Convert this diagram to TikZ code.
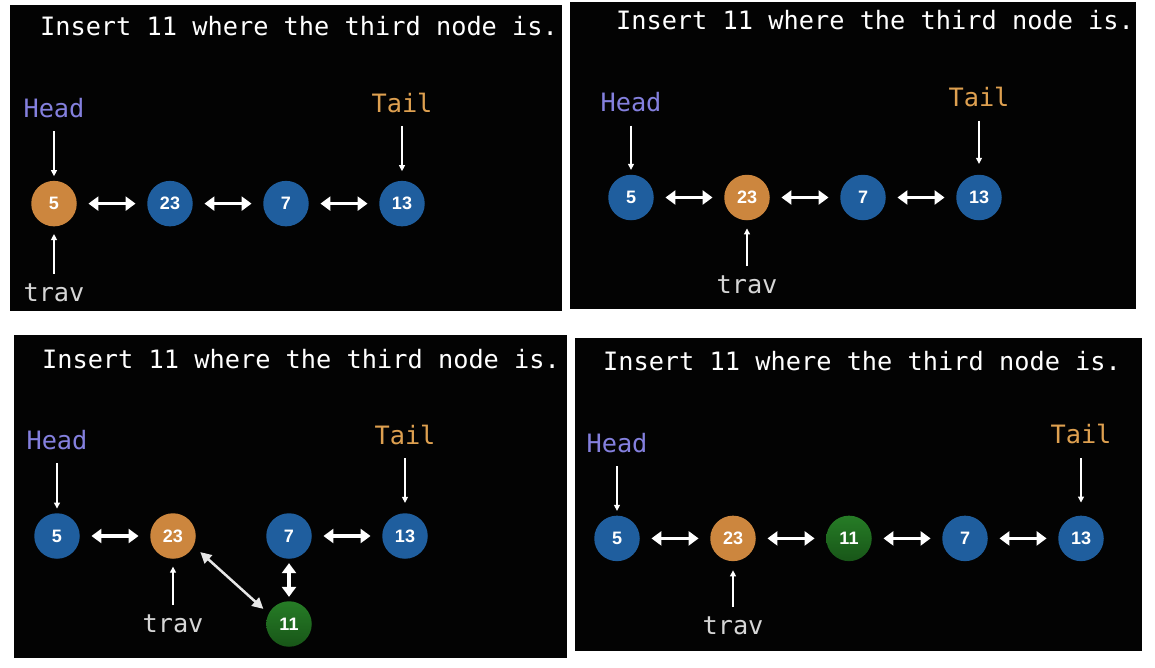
\documentclass[tikz,border=0pt]{standalone}
\usepackage{fontspec}
\setmonofont{DejaVu Sans Mono}
\setsansfont{Liberation Sans}
\usetikzlibrary{arrows.meta}

\definecolor{nodeblue}{RGB}{31,94,158}
\definecolor{nodeorange}{RGB}{204,134,62}
\definecolor{nodegreen}{RGB}{38,124,38}
\definecolor{nodegreendark}{RGB}{24,86,24}
\definecolor{headcol}{RGB}{132,128,222}
\definecolor{tailcol}{RGB}{222,160,80}
\definecolor{travcol}{RGB}{214,214,214}
\definecolor{panelbg}{RGB}{3,3,3}

\tikzset{
    listnode/.style={circle, minimum size=45.5pt, inner sep=0pt, text=white,
        font=\sffamily\bfseries\fontsize{18}{18}\selectfont},
    bluenode/.style={listnode, fill=nodeblue},
    orangenode/.style={listnode, fill=nodeorange},
    greennode/.style={listnode, top color=nodegreen, bottom color=nodegreendark},
    title/.style={anchor=base, inner sep=0pt, text=white,
        font=\ttfamily\fontsize{25.3}{25.3}\selectfont},
    headlbl/.style={title, text=headcol},
    taillbl/.style={title, text=tailcol},
    travlbl/.style={title, text=travcol},
    link/.style={white, line width=3.5pt, shorten <=11.5pt, shorten >=11.5pt,
        {Triangle[length=10pt,width=14pt]}-{Triangle[length=10pt,width=14pt]}},
    thinlink/.style={travcol!60!white, line width=2.5pt,
        {Triangle[length=11pt,width=11pt]}-{Triangle[length=11pt,width=11pt]}},
    pointer/.style={white, line width=1.2pt, -{Triangle[length=6pt,width=6pt]}}
}

\begin{document}
\begin{tikzpicture}[x=1pt,y=-1pt]
    \useasboundingbox (0,0) rectangle (1155,667);
    \fill[white] (0,0) rectangle (1155,667);

    % panel 1: trav at the head
    \fill[panelbg] (10,5) rectangle (562,311);
    \node[title] (t1) at (299,35.8) {Insert 11 where the third node is.};
    \foreach \i/\v/\s in {1/5/orangenode,2/23/bluenode,3/7/bluenode,4/13/bluenode}
        \node[\s] (a\i) at ({54+116*(\i-1)},203.6) {\v};
    \foreach \i/\j in {1/2,2/3,3/4}
        \draw[link] (a\i) -- (a\j);
    \node[headlbl] (h1) at (54,117.7) {Head};
    \node[taillbl] (l1) at (402,112.7) {Tail};
    \node[travlbl] (r1) at (54,301) {trav};
    \draw[pointer, shorten <=13pt, shorten >=4.5pt] (h1) -- (a1);
    \draw[pointer, shorten <=12.5pt, shorten >=9.5pt] (l1) -- (a4);
    \draw[pointer, shorten <=9.5pt, shorten >=7.5pt] (r1) -- (a1);

    % panel 2: trav moved one step
    \fill[panelbg] (570,2) rectangle (1136,309);
    \node[title] (t2) at (875,29.3) {Insert 11 where the third node is.};
    \foreach \i/\v/\s in {1/5/bluenode,2/23/orangenode,3/7/bluenode,4/13/bluenode}
        \node[\s] (p\i) at ({631+116*(\i-1)},197.5) {\v};
    \foreach \i/\j in {1/2,2/3,3/4}
        \draw[link] (p\i) -- (p\j);
    \node[headlbl] (h2) at (631,111) {Head};
    \node[taillbl] (l2) at (979,106) {Tail};
    \node[travlbl] (r2) at (747,293.3) {trav};
    \draw[pointer, shorten <=14pt, shorten >=4.7pt] (h2) -- (p1);
    \draw[pointer, shorten <=14pt, shorten >=10.7pt] (l2) -- (p4);
    \draw[pointer, shorten <=9pt, shorten >=8pt] (r2) -- (p2);

    % panel 3: 11 linked in
    \fill[panelbg] (14,335) rectangle (567,658);
    \node[title] (t3) at (301,368.4) {Insert 11 where the third node is.};
    \foreach \i/\v/\s in {1/5/bluenode,2/23/orangenode,3/7/bluenode,4/13/bluenode}
        \node[\s] (b\i) at ({57+116*(\i-1)},536) {\v};
    \node[greennode] (b5) at (289,624) {11};
    \draw[link] (b1) -- (b2);
    \draw[link] (b3) -- (b4);
    \draw[link, shorten <=4.2pt, shorten >=4.2pt] (b3) -- (b5);
    \draw[thinlink, shorten <=9pt, shorten >=7pt] (b2.-26) -- (b5.153);
    \node[headlbl] (h3) at (57,449.6) {Head};
    \node[taillbl] (l3) at (405,444.6) {Tail};
    \node[travlbl] (r3) at (173,632.3) {trav};
    \draw[pointer, shorten <=13.3pt, shorten >=4.5pt] (h3) -- (b1);
    \draw[pointer, shorten <=13pt, shorten >=10.2pt] (l3) -- (b4);
    \draw[pointer, shorten <=9.3pt, shorten >=7.7pt] (r3) -- (b2);

    % panel 4: the new list
    \fill[panelbg] (575,338) rectangle (1142,651);
    \node[title] (t4) at (862,370.4) {Insert 11 where the third node is.};
    \foreach \i/\v/\s in {1/5/bluenode,2/23/orangenode,3/11/greennode,4/7/bluenode,5/13/bluenode}
        \node[\s] (c\i) at ({617+116*(\i-1)},538.4) {\v};
    \foreach \i/\j in {1/2,2/3,3/4,4/5}
        \draw[link] (c\i) -- (c\j);
    \node[headlbl] (h4) at (617,452.6) {Head};
    \node[taillbl] (l4) at (1081,443.9) {Tail};
    \node[travlbl] (r4) at (733,634.3) {trav};
    \draw[pointer, shorten <=13pt, shorten >=4.6pt] (h4) -- (c1);
    \draw[pointer, shorten <=13.7pt, shorten >=12.9pt] (l4) -- (c5);
    \draw[pointer, shorten <=9.3pt, shorten >=9pt] (r4) -- (c2);
\end{tikzpicture}
\end{document}
